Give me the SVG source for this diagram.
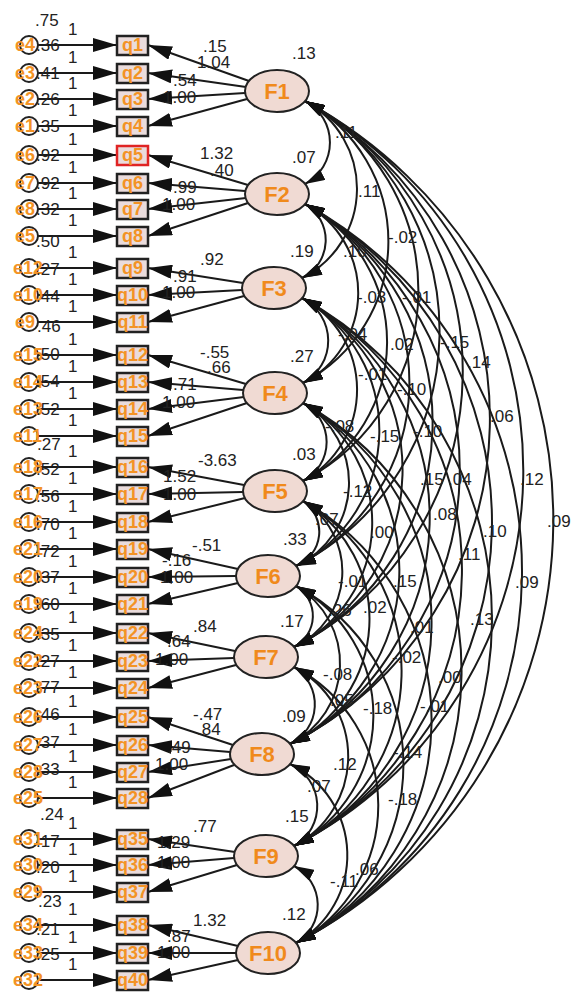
<svg xmlns="http://www.w3.org/2000/svg" width="571" height="994" viewBox="0 0 571 994">
<defs>
<style>
.n{font-family:"Liberation Sans",Arial,sans-serif;font-size:17px;fill:#222}
.el{font-family:"Liberation Sans",Arial,sans-serif;font-size:18px;font-weight:bold;fill:#f39325}
.ql{font-family:"Liberation Sans",Arial,sans-serif;font-size:18px;font-weight:bold;fill:#f39325;text-anchor:middle}
.fl{font-family:"Liberation Sans",Arial,sans-serif;font-size:22px;font-weight:bold;fill:#f08a1c;text-anchor:middle}
.box{fill:#eadcdc;stroke:#222;stroke-width:2.5}
.red{stroke:#e02424}
.ell{fill:#f0dad3;stroke:#222;stroke-width:2}
.ec{fill:none;stroke:#222;stroke-width:2}
.ld{stroke:#1a1a1a;stroke-width:2;fill:none;marker-end:url(#ah)}
.cv{stroke:#1a1a1a;stroke-width:2;fill:none;marker-start:url(#ch);marker-end:url(#ch)}
</style>
<marker id="ah" markerUnits="userSpaceOnUse" markerWidth="24" markerHeight="14" refX="24" refY="7" orient="auto"><path d="M0,0 L24,7 L0,14 z" fill="#111"/></marker>
<marker id="ch" markerUnits="userSpaceOnUse" markerWidth="20" markerHeight="12" refX="20" refY="6" orient="auto-start-reverse"><path d="M0,0 L20,6 L0,12 z" fill="#111"/></marker>
</defs>
<rect width="571" height="994" fill="#fff"/>

<g id="connectors">
<line class="ld" x1="38" y1="45" x2="117" y2="45"/>
<line class="ld" x1="38" y1="73" x2="117" y2="73"/>
<line class="ld" x1="38" y1="99" x2="117" y2="99"/>
<line class="ld" x1="38" y1="126" x2="117" y2="126"/>
<line class="ld" x1="38" y1="155" x2="117" y2="155"/>
<line class="ld" x1="38" y1="183" x2="117" y2="183"/>
<line class="ld" x1="38" y1="209" x2="117" y2="209"/>
<line class="ld" x1="38" y1="236" x2="117" y2="236"/>
<line class="ld" x1="38" y1="268" x2="117" y2="268"/>
<line class="ld" x1="38" y1="295" x2="117" y2="295"/>
<line class="ld" x1="38" y1="322" x2="117" y2="322"/>
<line class="ld" x1="38" y1="355" x2="117" y2="355"/>
<line class="ld" x1="38" y1="382" x2="117" y2="382"/>
<line class="ld" x1="38" y1="409" x2="117" y2="409"/>
<line class="ld" x1="38" y1="436" x2="117" y2="436"/>
<line class="ld" x1="38" y1="467" x2="117" y2="467"/>
<line class="ld" x1="38" y1="494" x2="117" y2="494"/>
<line class="ld" x1="38" y1="522" x2="117" y2="522"/>
<line class="ld" x1="38" y1="549" x2="117" y2="549"/>
<line class="ld" x1="38" y1="577" x2="117" y2="577"/>
<line class="ld" x1="38" y1="604" x2="117" y2="604"/>
<line class="ld" x1="38" y1="633" x2="117" y2="633"/>
<line class="ld" x1="38" y1="661" x2="117" y2="661"/>
<line class="ld" x1="38" y1="688" x2="117" y2="688"/>
<line class="ld" x1="38" y1="717" x2="117" y2="717"/>
<line class="ld" x1="38" y1="745" x2="117" y2="745"/>
<line class="ld" x1="38" y1="772" x2="117" y2="772"/>
<line class="ld" x1="38" y1="798" x2="117" y2="798"/>
<line class="ld" x1="38" y1="839" x2="117" y2="839"/>
<line class="ld" x1="38" y1="865" x2="117" y2="865"/>
<line class="ld" x1="38" y1="892" x2="117" y2="892"/>
<line class="ld" x1="38" y1="925" x2="117" y2="925"/>
<line class="ld" x1="38" y1="953" x2="117" y2="953"/>
<line class="ld" x1="38" y1="980" x2="117" y2="980"/>
<line class="ld" x1="249" y1="81" x2="148" y2="45"/>
<line class="ld" x1="246" y1="87" x2="148" y2="73"/>
<line class="ld" x1="245" y1="93" x2="148" y2="99"/>
<line class="ld" x1="247" y1="99" x2="148" y2="126"/>
<line class="ld" x1="248" y1="185" x2="148" y2="155"/>
<line class="ld" x1="245" y1="191" x2="148" y2="183"/>
<line class="ld" x1="246" y1="198" x2="148" y2="209"/>
<line class="ld" x1="248" y1="203" x2="148" y2="236"/>
<line class="ld" x1="243" y1="283" x2="148" y2="268"/>
<line class="ld" x1="242" y1="290" x2="148" y2="295"/>
<line class="ld" x1="244" y1="296" x2="148" y2="322"/>
<line class="ld" x1="246" y1="384" x2="148" y2="355"/>
<line class="ld" x1="243" y1="390" x2="148" y2="382"/>
<line class="ld" x1="244" y1="397" x2="148" y2="409"/>
<line class="ld" x1="247" y1="403" x2="148" y2="436"/>
<line class="ld" x1="244" y1="485" x2="148" y2="467"/>
<line class="ld" x1="243" y1="492" x2="148" y2="494"/>
<line class="ld" x1="245" y1="498" x2="148" y2="522"/>
<line class="ld" x1="238" y1="569" x2="148" y2="549"/>
<line class="ld" x1="236" y1="576" x2="148" y2="577"/>
<line class="ld" x1="238" y1="583" x2="148" y2="604"/>
<line class="ld" x1="235" y1="651" x2="148" y2="633"/>
<line class="ld" x1="234" y1="658" x2="148" y2="661"/>
<line class="ld" x1="236" y1="665" x2="148" y2="688"/>
<line class="ld" x1="233" y1="745" x2="148" y2="717"/>
<line class="ld" x1="230" y1="752" x2="148" y2="745"/>
<line class="ld" x1="231" y1="759" x2="148" y2="772"/>
<line class="ld" x1="234" y1="765" x2="148" y2="798"/>
<line class="ld" x1="235" y1="852" x2="148" y2="839"/>
<line class="ld" x1="234" y1="858" x2="148" y2="865"/>
<line class="ld" x1="237" y1="865" x2="148" y2="892"/>
<line class="ld" x1="238" y1="946" x2="148" y2="925"/>
<line class="ld" x1="236" y1="953" x2="148" y2="953"/>
<line class="ld" x1="238" y1="960" x2="148" y2="980"/>
<path class="cv" d="M305,101 A47,47 0 0 1 305,184"/>
<path class="cv" d="M305,101 A100,100 0 0 1 302,278"/>
<path class="cv" d="M305,101 A160,160 0 0 1 303,383"/>
<path class="cv" d="M305,101 A215,215 0 0 1 303,481"/>
<path class="cv" d="M305,101 A264,264 0 0 1 296,566"/>
<path class="cv" d="M305,101 A310,310 0 0 1 294,647"/>
<path class="cv" d="M305,101 A365,365 0 0 1 290,744"/>
<path class="cv" d="M305,101 A422,422 0 0 1 294,846"/>
<path class="cv" d="M305,101 A477,477 0 0 1 296,943"/>
<path class="cv" d="M305,204 A42,42 0 0 1 302,278"/>
<path class="cv" d="M305,204 A101,101 0 0 1 303,383"/>
<path class="cv" d="M305,204 A157,157 0 0 1 303,481"/>
<path class="cv" d="M305,204 A205,205 0 0 1 296,566"/>
<path class="cv" d="M305,204 A251,251 0 0 1 294,647"/>
<path class="cv" d="M305,204 A306,306 0 0 1 290,744"/>
<path class="cv" d="M305,204 A364,364 0 0 1 294,846"/>
<path class="cv" d="M305,204 A419,419 0 0 1 296,943"/>
<path class="cv" d="M302,298 A48,48 0 0 1 303,383"/>
<path class="cv" d="M302,298 A104,104 0 0 1 303,481"/>
<path class="cv" d="M302,298 A152,152 0 0 1 296,566"/>
<path class="cv" d="M302,298 A198,198 0 0 1 294,647"/>
<path class="cv" d="M302,298 A253,253 0 0 1 290,744"/>
<path class="cv" d="M302,298 A311,311 0 0 1 294,846"/>
<path class="cv" d="M302,298 A366,366 0 0 1 296,943"/>
<path class="cv" d="M303,403 A44,44 0 0 1 303,481"/>
<path class="cv" d="M303,403 A92,92 0 0 1 296,566"/>
<path class="cv" d="M303,403 A138,138 0 0 1 294,647"/>
<path class="cv" d="M303,403 A193,193 0 0 1 290,744"/>
<path class="cv" d="M303,403 A251,251 0 0 1 294,846"/>
<path class="cv" d="M303,403 A306,306 0 0 1 296,943"/>
<path class="cv" d="M303,501 A37,37 0 0 1 296,566"/>
<path class="cv" d="M303,501 A83,83 0 0 1 294,647"/>
<path class="cv" d="M303,501 A138,138 0 0 1 290,744"/>
<path class="cv" d="M303,501 A196,196 0 0 1 294,846"/>
<path class="cv" d="M303,501 A251,251 0 0 1 296,943"/>
<path class="cv" d="M296,586 A35,35 0 0 1 294,647"/>
<path class="cv" d="M296,586 A90,90 0 0 1 290,744"/>
<path class="cv" d="M296,586 A147,147 0 0 1 294,846"/>
<path class="cv" d="M296,586 A202,202 0 0 1 296,943"/>
<path class="cv" d="M294,667 A44,44 0 0 1 290,744"/>
<path class="cv" d="M294,667 A101,101 0 0 1 294,846"/>
<path class="cv" d="M294,667 A156,156 0 0 1 296,943"/>
<path class="cv" d="M290,764 A46,46 0 0 1 294,846"/>
<path class="cv" d="M290,764 A101,101 0 0 1 296,943"/>
<path class="cv" d="M294,866 A44,44 0 0 1 296,943"/>
</g>

<g id="connector-labels" class="n">
<text x="68" y="35">1</text><text x="68" y="63">1</text><text x="68" y="89">1</text><text x="68" y="116">1</text>
<text x="68" y="145">1</text><text x="68" y="173">1</text><text x="68" y="199">1</text><text x="68" y="226">1</text>
<text x="68" y="258">1</text><text x="68" y="285">1</text><text x="68" y="312">1</text><text x="68" y="345">1</text>
<text x="68" y="372">1</text><text x="68" y="399">1</text><text x="68" y="426">1</text><text x="68" y="457">1</text>
<text x="68" y="484">1</text><text x="68" y="512">1</text><text x="68" y="539">1</text><text x="68" y="567">1</text>
<text x="68" y="594">1</text><text x="68" y="623">1</text><text x="68" y="651">1</text><text x="68" y="678">1</text>
<text x="68" y="707">1</text><text x="68" y="735">1</text><text x="68" y="762">1</text><text x="68" y="788">1</text>
<text x="68" y="829">1</text><text x="68" y="855">1</text><text x="68" y="882">1</text><text x="68" y="915">1</text>
<text x="68" y="943">1</text><text x="68" y="970">1</text>
<text x="203" y="52">.15</text><text x="197" y="68">1.04</text><text x="173" y="86">.54</text><text x="163" y="103">1.00</text>
<text x="200" y="159">1.32</text><text x="210" y="176">.40</text><text x="173" y="193">.99</text><text x="162" y="210">1.00</text>
<text x="200" y="265">.92</text><text x="173" y="282">.91</text><text x="162" y="298">1.00</text>
<text x="200" y="358">-.55</text><text x="207" y="373">.66</text><text x="173" y="390">.71</text><text x="162" y="408">1.00</text>
<text x="198" y="466">-3.63</text><text x="163" y="482">1.52</text><text x="163" y="500">1.00</text>
<text x="192" y="551">-.51</text><text x="162" y="566">-.16</text><text x="160" y="583">1.00</text>
<text x="193" y="632">.84</text><text x="167" y="647">.64</text><text x="155" y="665">1.00</text>
<text x="193" y="720">-.47</text><text x="197" y="735">.84</text><text x="167" y="753">.49</text><text x="155" y="770">1.00</text>
<text x="193" y="832">.77</text><text x="157" y="848">1.29</text><text x="157" y="868">1.00</text>
<text x="193" y="926">1.32</text><text x="167" y="942">.87</text><text x="157" y="958">1.00</text>
<text x="335" y="138">.11</text><text x="358" y="197">.11</text><text x="388" y="243">-.02</text><text x="343" y="257">.10</text>
<text x="357" y="303">-.03</text><text x="402" y="303">-.01</text><text x="338" y="340">-.04</text><text x="390" y="350">.02</text>
<text x="440" y="348">-.15</text><text x="467" y="368">.14</text><text x="358" y="380">-.01</text><text x="397" y="395">-.10</text>
<text x="490" y="422">.06</text><text x="325" y="432">-.08</text><text x="370" y="442">-.15</text><text x="413" y="437">-.10</text>
<text x="420" y="485">.15</text><text x="448" y="485">.04</text><text x="520" y="485">.12</text><text x="547" y="527">.09</text>
<text x="343" y="497">-.12</text><text x="315" y="525">.07</text><text x="370" y="538">.00</text><text x="483" y="537">.10</text>
<text x="433" y="520">.08</text><text x="458" y="560">.11</text><text x="338" y="587">-.01</text><text x="393" y="587">.15</text>
<text x="515" y="588">.09</text><text x="328" y="616">.26</text><text x="363" y="613">.02</text><text x="410" y="633">.01</text>
<text x="470" y="625">.13</text><text x="392" y="663">-.02</text><text x="323" y="680">-.08</text><text x="438" y="683">.00</text>
<text x="330" y="706">.05</text><text x="363" y="714">-.18</text><text x="420" y="712">-.01</text><text x="333" y="770">.12</text>
<text x="393" y="758">-.14</text><text x="307" y="792">.07</text><text x="388" y="805">-.18</text><text x="330" y="887">-.11</text>
<text x="355" y="875">.06</text>
</g>

<text class="n" x="35" y="26">.75</text>

<g id="e4"><circle class="ec" cx="29" cy="45" r="9"/><text class="el" x="15" y="51">e4</text><text class="n" x="36" y="51">.36</text></g>
<g id="e3"><circle class="ec" cx="29" cy="73" r="9"/><text class="el" x="15" y="79">e3</text><text class="n" x="36" y="79">.41</text></g>
<g id="e2"><circle class="ec" cx="29" cy="99" r="9"/><text class="el" x="15" y="105">e2</text><text class="n" x="36" y="105">.26</text></g>
<g id="e1"><circle class="ec" cx="29" cy="126" r="9"/><text class="el" x="15" y="132">e1</text><text class="n" x="36" y="132">.35</text></g>
<g id="e6"><circle class="ec" cx="29" cy="155" r="9"/><text class="el" x="15" y="161">e6</text><text class="n" x="36" y="161">.92</text></g>
<g id="e7"><circle class="ec" cx="29" cy="183" r="9"/><text class="el" x="15" y="189">e7</text><text class="n" x="36" y="189">.92</text></g>
<g id="e8"><circle class="ec" cx="29" cy="209" r="9"/><text class="el" x="15" y="215">e8</text><text class="n" x="36" y="215">.32</text></g>
<g id="e5"><circle class="ec" cx="29" cy="236" r="9"/><text class="el" x="15" y="242">e5</text><text class="n" x="36" y="247">.50</text></g>
<g id="e12"><circle class="ec" cx="29" cy="268" r="9"/><text class="el" x="13" y="274">e12</text><text class="n" x="36" y="275">.27</text></g>
<g id="e10"><circle class="ec" cx="29" cy="295" r="9"/><text class="el" x="13" y="301">e10</text><text class="n" x="36" y="302">.44</text></g>
<g id="e9"><circle class="ec" cx="29" cy="322" r="9"/><text class="el" x="15" y="328">e9</text><text class="n" x="37" y="332">.46</text></g>
<g id="e15"><circle class="ec" cx="29" cy="355" r="9"/><text class="el" x="13" y="361">e15</text><text class="n" x="36" y="360">.50</text></g>
<g id="e14"><circle class="ec" cx="29" cy="382" r="9"/><text class="el" x="13" y="388">e14</text><text class="n" x="36" y="387">.54</text></g>
<g id="e13"><circle class="ec" cx="29" cy="409" r="9"/><text class="el" x="13" y="415">e13</text><text class="n" x="36" y="415">.52</text></g>
<g id="e11"><circle class="ec" cx="29" cy="436" r="9"/><text class="el" x="13" y="442">e11</text><text class="n" x="37" y="450">.27</text></g>
<g id="e18"><circle class="ec" cx="29" cy="467" r="9"/><text class="el" x="13" y="473">e18</text><text class="n" x="36" y="475">.52</text></g>
<g id="e17"><circle class="ec" cx="29" cy="494" r="9"/><text class="el" x="13" y="500">e17</text><text class="n" x="36" y="502">.56</text></g>
<g id="e16"><circle class="ec" cx="29" cy="522" r="9"/><text class="el" x="13" y="528">e16</text><text class="n" x="36" y="530">.70</text></g>
<g id="e21"><circle class="ec" cx="29" cy="549" r="9"/><text class="el" x="13" y="555">e21</text><text class="n" x="36" y="557">.72</text></g>
<g id="e20"><circle class="ec" cx="29" cy="577" r="9"/><text class="el" x="13" y="583">e20</text><text class="n" x="36" y="583">.37</text></g>
<g id="e19"><circle class="ec" cx="29" cy="604" r="9"/><text class="el" x="13" y="610">e19</text><text class="n" x="36" y="610">.60</text></g>
<g id="e24"><circle class="ec" cx="29" cy="633" r="9"/><text class="el" x="13" y="639">e24</text><text class="n" x="36" y="640">.35</text></g>
<g id="e22"><circle class="ec" cx="29" cy="661" r="9"/><text class="el" x="13" y="667">e22</text><text class="n" x="36" y="667">.27</text></g>
<g id="e23"><circle class="ec" cx="29" cy="688" r="9"/><text class="el" x="13" y="694">e23</text><text class="n" x="36" y="693">.77</text></g>
<g id="e26"><circle class="ec" cx="29" cy="717" r="9"/><text class="el" x="13" y="723">e26</text><text class="n" x="36" y="720">.46</text></g>
<g id="e27"><circle class="ec" cx="29" cy="745" r="9"/><text class="el" x="13" y="751">e27</text><text class="n" x="36" y="748">.37</text></g>
<g id="e28"><circle class="ec" cx="29" cy="772" r="9"/><text class="el" x="13" y="778">e28</text><text class="n" x="36" y="775">.33</text></g>
<g id="e25"><circle class="ec" cx="29" cy="798" r="9"/><text class="el" x="13" y="804">e25</text><text class="n" x="40" y="820">.24</text></g>
<g id="e31"><circle class="ec" cx="29" cy="839" r="9"/><text class="el" x="13" y="845">e31</text><text class="n" x="36" y="847">.17</text></g>
<g id="e30"><circle class="ec" cx="29" cy="865" r="9"/><text class="el" x="13" y="871">e30</text><text class="n" x="36" y="873">.20</text></g>
<g id="e29"><circle class="ec" cx="29" cy="892" r="9"/><text class="el" x="13" y="898">e29</text><text class="n" x="38" y="907">.23</text></g>
<g id="e34"><circle class="ec" cx="29" cy="925" r="9"/><text class="el" x="13" y="931">e34</text><text class="n" x="36" y="935">.21</text></g>
<g id="e33"><circle class="ec" cx="29" cy="953" r="9"/><text class="el" x="13" y="959">e33</text><text class="n" x="36" y="960">.25</text></g>
<g id="e32"><circle class="ec" cx="29" cy="980" r="9"/><text class="el" x="13" y="986">e32</text></g>

<g id="q1"><rect class="box" x="117" y="36" width="31" height="19"/><text class="ql" x="132.5" y="51">q1</text></g>
<g id="q2"><rect class="box" x="117" y="64" width="31" height="19"/><text class="ql" x="132.5" y="79">q2</text></g>
<g id="q3"><rect class="box" x="117" y="90" width="31" height="19"/><text class="ql" x="132.5" y="105">q3</text></g>
<g id="q4"><rect class="box" x="117" y="117" width="31" height="19"/><text class="ql" x="132.5" y="132">q4</text></g>
<g id="q5"><rect class="box red" x="117" y="146" width="31" height="19"/><text class="ql" x="132.5" y="161">q5</text></g>
<g id="q6"><rect class="box" x="117" y="174" width="31" height="19"/><text class="ql" x="132.5" y="189">q6</text></g>
<g id="q7"><rect class="box" x="117" y="200" width="31" height="19"/><text class="ql" x="132.5" y="215">q7</text></g>
<g id="q8"><rect class="box" x="117" y="227" width="31" height="19"/><text class="ql" x="132.5" y="242">q8</text></g>
<g id="q9"><rect class="box" x="117" y="259" width="31" height="19"/><text class="ql" x="132.5" y="274">q9</text></g>
<g id="q10"><rect class="box" x="117" y="286" width="31" height="19"/><text class="ql" x="132.5" y="301">q10</text></g>
<g id="q11"><rect class="box" x="117" y="313" width="31" height="19"/><text class="ql" x="132.5" y="328">q11</text></g>
<g id="q12"><rect class="box" x="117" y="346" width="31" height="19"/><text class="ql" x="132.5" y="361">q12</text></g>
<g id="q13"><rect class="box" x="117" y="373" width="31" height="19"/><text class="ql" x="132.5" y="388">q13</text></g>
<g id="q14"><rect class="box" x="117" y="400" width="31" height="19"/><text class="ql" x="132.5" y="415">q14</text></g>
<g id="q15"><rect class="box" x="117" y="427" width="31" height="19"/><text class="ql" x="132.5" y="442">q15</text></g>
<g id="q16"><rect class="box" x="117" y="458" width="31" height="19"/><text class="ql" x="132.5" y="473">q16</text></g>
<g id="q17"><rect class="box" x="117" y="485" width="31" height="19"/><text class="ql" x="132.5" y="500">q17</text></g>
<g id="q18"><rect class="box" x="117" y="513" width="31" height="19"/><text class="ql" x="132.5" y="528">q18</text></g>
<g id="q19"><rect class="box" x="117" y="540" width="31" height="19"/><text class="ql" x="132.5" y="555">q19</text></g>
<g id="q20"><rect class="box" x="117" y="568" width="31" height="19"/><text class="ql" x="132.5" y="583">q20</text></g>
<g id="q21"><rect class="box" x="117" y="595" width="31" height="19"/><text class="ql" x="132.5" y="610">q21</text></g>
<g id="q22"><rect class="box" x="117" y="624" width="31" height="19"/><text class="ql" x="132.5" y="639">q22</text></g>
<g id="q23"><rect class="box" x="117" y="652" width="31" height="19"/><text class="ql" x="132.5" y="667">q23</text></g>
<g id="q24"><rect class="box" x="117" y="679" width="31" height="19"/><text class="ql" x="132.5" y="694">q24</text></g>
<g id="q25"><rect class="box" x="117" y="708" width="31" height="19"/><text class="ql" x="132.5" y="723">q25</text></g>
<g id="q26"><rect class="box" x="117" y="736" width="31" height="19"/><text class="ql" x="132.5" y="751">q26</text></g>
<g id="q27"><rect class="box" x="117" y="763" width="31" height="19"/><text class="ql" x="132.5" y="778">q27</text></g>
<g id="q28"><rect class="box" x="117" y="789" width="31" height="19"/><text class="ql" x="132.5" y="804">q28</text></g>
<g id="q35"><rect class="box" x="117" y="830" width="31" height="19"/><text class="ql" x="132.5" y="845">q35</text></g>
<g id="q36"><rect class="box" x="117" y="856" width="31" height="19"/><text class="ql" x="132.5" y="871">q36</text></g>
<g id="q37"><rect class="box" x="117" y="883" width="31" height="19"/><text class="ql" x="132.5" y="898">q37</text></g>
<g id="q38"><rect class="box" x="117" y="916" width="31" height="19"/><text class="ql" x="132.5" y="931">q38</text></g>
<g id="q39"><rect class="box" x="117" y="944" width="31" height="19"/><text class="ql" x="132.5" y="959">q39</text></g>
<g id="q40"><rect class="box" x="117" y="971" width="31" height="19"/><text class="ql" x="132.5" y="986">q40</text></g>

<g id="F1"><ellipse class="ell" cx="277" cy="91" rx="32" ry="21"/><text class="fl" x="277" y="99">F1</text><text class="n" x="292" y="59">.13</text></g>
<g id="F2"><ellipse class="ell" cx="277" cy="194" rx="32" ry="21"/><text class="fl" x="277" y="202">F2</text><text class="n" x="292" y="163">.07</text></g>
<g id="F3"><ellipse class="ell" cx="274" cy="288" rx="32" ry="21"/><text class="fl" x="274" y="296">F3</text><text class="n" x="290" y="257">.19</text></g>
<g id="F4"><ellipse class="ell" cx="275" cy="393" rx="32" ry="21"/><text class="fl" x="275" y="401">F4</text><text class="n" x="290" y="362">.27</text></g>
<g id="F5"><ellipse class="ell" cx="275" cy="491" rx="32" ry="21"/><text class="fl" x="275" y="499">F5</text><text class="n" x="292" y="460">.03</text></g>
<g id="F6"><ellipse class="ell" cx="268" cy="576" rx="32" ry="21"/><text class="fl" x="268" y="584">F6</text><text class="n" x="283" y="545">.33</text></g>
<g id="F7"><ellipse class="ell" cx="266" cy="657" rx="32" ry="21"/><text class="fl" x="266" y="665">F7</text><text class="n" x="280" y="627">.17</text></g>
<g id="F8"><ellipse class="ell" cx="262" cy="754" rx="32" ry="21"/><text class="fl" x="262" y="762">F8</text><text class="n" x="282" y="722">.09</text></g>
<g id="F9"><ellipse class="ell" cx="266" cy="856" rx="32" ry="21"/><text class="fl" x="266" y="864">F9</text><text class="n" x="285" y="822">.15</text></g>
<g id="F10"><ellipse class="ell" cx="268" cy="953" rx="32" ry="21"/><text class="fl" x="268" y="961">F10</text><text class="n" x="282" y="920">.12</text></g>
</svg>
